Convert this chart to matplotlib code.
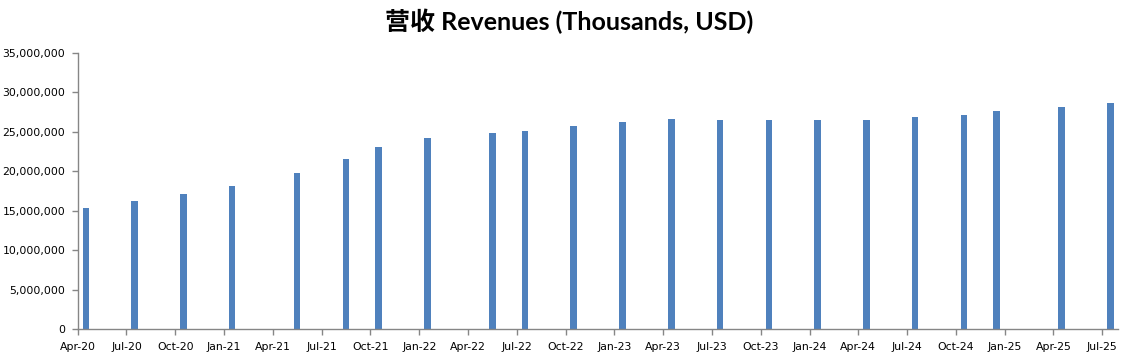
import numpy as np
import matplotlib
matplotlib.use("Agg")
import matplotlib.pyplot as plt
from matplotlib.ticker import FuncFormatter

# reporting months of each bar (year, month) and revenue in thousands USD
periods = ["2020-04", "2020-07", "2020-10", "2021-01", "2021-05", "2021-08",
           "2021-10", "2022-01", "2022-05", "2022-07", "2022-10", "2023-01",
           "2023-04", "2023-07", "2023-10", "2024-01", "2024-04", "2024-07",
           "2024-10", "2024-12", "2025-04", "2025-07"]
revenues = [15350000, 16240000, 17170000, 18140000, 19780000, 21560000,
            23080000, 24220000, 24850000, 25100000, 25730000, 26240000,
            26620000, 26490000, 26490000, 26490000, 26490000, 26870000,
            27120000, 27630000, 28140000, 28640000]

tick_labels = ["Apr-20", "Jul-20", "Oct-20", "Jan-21", "Apr-21", "Jul-21",
               "Oct-21", "Jan-22", "Apr-22", "Jul-22", "Oct-22", "Jan-23",
               "Apr-23", "Jul-23", "Oct-23", "Jan-24", "Apr-24", "Jul-24",
               "Oct-24", "Jan-25", "Apr-25", "Jul-25"]

start_y, start_m = 2020, 4
def month_index(p):
    y, m = p.split("-")
    return (int(y) - start_y) * 12 + int(m) - start_m

x = np.array([month_index(p) for p in periods]) + 0.5
n_months = month_index("2025-07") + 1

axis_col = "#868686"
bar_col = "#4F81BD"

fig = plt.figure(figsize=(11.39, 3.59), dpi=100)
ax = fig.add_axes([0.0682, 0.0827, 0.9138, 0.7703])

ax.bar(x, revenues, width=0.4, color=bar_col, zorder=2)

ax.set_xlim(0, n_months)
ax.set_ylim(0, 35000000)
ax.set_xticks(np.arange(0, n_months, 3))
ax.set_xticklabels(tick_labels)
ax.set_yticks(np.arange(0, 35000001, 5000000))
ax.yaxis.set_major_formatter(FuncFormatter(lambda v, p: f"{int(v):,}"))

for s in ["top", "right"]:
    ax.spines[s].set_visible(False)
for s in ["left", "bottom"]:
    ax.spines[s].set_color(axis_col)
    ax.spines[s].set_linewidth(1.0)

ax.tick_params(axis="both", colors=axis_col, labelcolor="black",
               labelsize=7.8, length=4, width=1.0, direction="out")
ax.tick_params(axis="y", pad=5)
ax.tick_params(axis="x", pad=5)

fig.text(0.5, 0.94, "营收 Revenues (Thousands, USD)", ha="center", va="center",
         fontsize=18, fontweight="bold", family=["Lato", "Noto Sans CJK SC"])

fig.savefig("out.png", dpi=100)
